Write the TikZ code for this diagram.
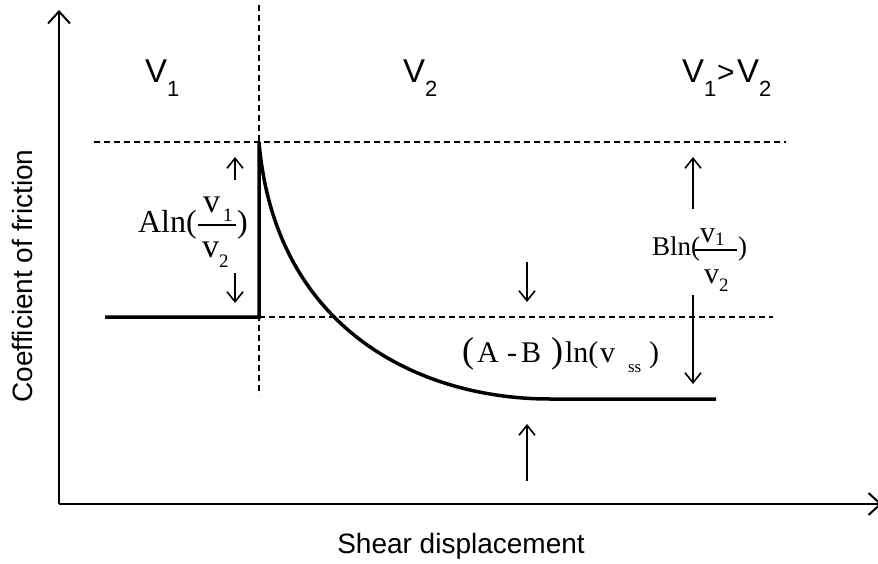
\documentclass[tikz,border=0pt]{standalone}
\usepackage{fontspec}
\usetikzlibrary{arrows.meta}
\newfontfamily\labfont{Liberation Sans}
\newfontfamily\eqfont{Liberation Serif}
\newcommand{\fs}[1]{\fontsize{#1}{#1}\selectfont}
\tikzset{
  axisline/.style={line width=2pt, -{Straight Barb[length=12pt,width=22pt,line width=2pt]}},
  guide/.style={line width=1.2pt, dash pattern=on 6pt off 4pt},
  curveline/.style={line width=3.5pt},
  marker/.style={line width=1.6pt, -{Straight Barb[length=10pt,width=16pt,line width=1.6pt]}},
  tx/.style={inner sep=0pt, outer sep=0pt, anchor=base west},
  lab/.style={tx, font=\labfont\fs{33}},
  labsub/.style={tx, font=\labfont\fs{22}},
}
\begin{document}
\begin{tikzpicture}[x=1pt,y=-1pt]
\useasboundingbox (0,0) rectangle (878,564);
% axes
\coordinate (O) at (59,504);
\coordinate (Ytip) at (59,10);
\coordinate (Xtip) at (882,504);
\draw[axisline] (O) -- (Ytip);
\draw[axisline] (O) -- (Xtip);
% guides
\coordinate (vd1) at (259,5);
\coordinate (vd2) at (259,395);
\coordinate (hd1) at (94,142);
\coordinate (hd2) at (786,142);
\coordinate (md1) at (259,317);
\coordinate (md2) at (773,317);
\draw[guide] (vd1) -- (vd2);
\draw[guide] (hd1) -- (hd2);
\draw[guide] (md1) -- (md2);
% friction curve
\coordinate (c0) at (105,317);
\coordinate (c1) at (259,317);
\coordinate (c2) at (259,142);
\coordinate (c3) at (550,399);
\coordinate (c4) at (716,399);
\draw[curveline, line join=miter] (c0) -- (c1) -- (c2) .. controls (275,330) and (420,399) .. (c3) -- (c4);
% markers
\coordinate (a1s) at (235,180); \coordinate (a1e) at (235,157);
\coordinate (a2s) at (235,273); \coordinate (a2e) at (235,303);
\coordinate (a3s) at (527,262); \coordinate (a3e) at (527,302);
\coordinate (a4s) at (527,481); \coordinate (a4e) at (527,424);
\coordinate (a5s) at (693,209); \coordinate (a5e) at (693,157);
\coordinate (a6s) at (693,295); \coordinate (a6e) at (693,384);
\draw[marker] (a1s) -- (a1e);
\draw[marker] (a2s) -- (a2e);
\draw[marker] (a3s) -- (a3e);
\draw[marker] (a4s) -- (a4e);
\draw[marker] (a5s) -- (a5e);
\draw[marker] (a6s) -- (a6e);
% region labels
\node[lab] (v1a) at (145,83) {V};
\node[labsub] (v1b) at (167,97) {1};
\node[lab] (v2a) at (403,83) {V};
\node[labsub] (v2b) at (425,97) {2};
\node[lab] (v3a) at (682,83) {V};
\node[labsub] (v3b) at (704,97) {1};
\node[tx, font=\labfont\fs{30}] (v3c) at (717,83) {>};
\node[lab] (v3d) at (737,83) {V};
\node[labsub] (v3e) at (759,97) {2};
% axis titles
\node[inner sep=0pt, anchor=base, font=\labfont\fs{28}] (xl) at (461,553) {Shear displacement};
\node[inner sep=0pt, anchor=base, rotate=90, font=\labfont\fs{28}] (yl) at (32,276) {Coefficient of friction};
% A ln(v1/v2)
\node[tx, font=\eqfont\fs{32}] (aln) at (138,233) {Aln(};
\node[tx, font=\eqfont\fs{34}] (an) at (203,213) {v};
\node[tx, font=\eqfont\fs{19}] (an1) at (223,222) {1};
\node[tx, font=\eqfont\fs{34}] (ad) at (202,258) {v};
\node[tx, font=\eqfont\fs{19}] (ad2) at (219,267) {2};
\node[tx, font=\eqfont\fs{32}] (arp) at (237,233) {)};
\coordinate (ab1) at (198,225); \coordinate (ab2) at (236,225);
\draw[line width=1.2pt] (ab1) -- (ab2);
% B ln(v1/v2)
\node[tx, font=\eqfont\fs{27}] (bln) at (652,255) {Bln(};
\node[tx, font=\eqfont\fs{30}] (bn) at (700,242) {v};
\node[tx, font=\eqfont\fs{19}] (bn1) at (715,246) {1};
\node[tx, font=\eqfont\fs{30}] (bd) at (704,283) {v};
\node[tx, font=\eqfont\fs{19}] (bd2) at (719,291) {2};
\node[tx, font=\eqfont\fs{27}] (brp) at (738,255) {)};
\coordinate (bb1) at (695,250); \coordinate (bb2) at (737,250);
\draw[line width=1.2pt] (bb1) -- (bb2);
% (A - B) ln(v ss)
\node[tx, font=\eqfont\fs{36}] (p1) at (462,362) {(};
\node[tx, font=\eqfont\fs{30}] (pa) at (477,362) {A};
\node[tx, font=\eqfont\fs{30}] (pm) at (507,362) {-};
\node[tx, font=\eqfont\fs{30}] (pb) at (521,362) {B};
\node[tx, font=\eqfont\fs{36}] (p2) at (551,362) {)};
\node[tx, font=\eqfont\fs{30}] (pln) at (565,362) {ln(};
\node[tx, font=\eqfont\fs{30}] (pv) at (600,362) {v};
\node[tx, font=\eqfont\fs{17}] (pss) at (628,372) {ss};
\node[tx, font=\eqfont\fs{30}] (p3) at (649,362) {)};
\end{tikzpicture}
\end{document}
